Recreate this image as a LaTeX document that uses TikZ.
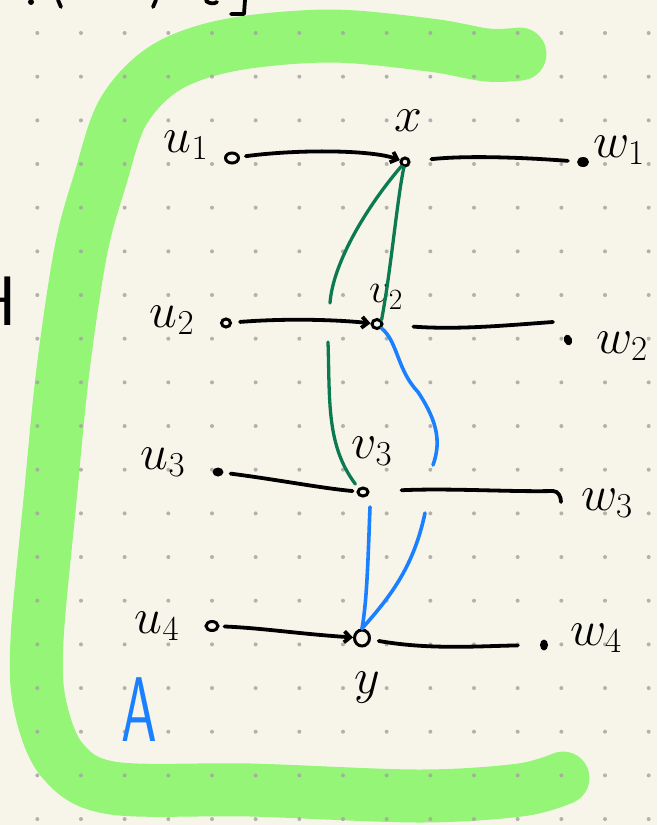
\RequirePackage{fix-cm}
\documentclass[tikz,border=0pt]{standalone}
\usetikzlibrary{arrows.meta,shapes.geometric}
\definecolor{paper}{HTML}{F7F5EA}
\definecolor{hl}{HTML}{94F577}
\definecolor{dgreen}{HTML}{0C7A50}
\definecolor{pblue}{HTML}{1A80FF}
\definecolor{griddot}{HTML}{A6A6A2}
\tikzset{
  ink/.style={line width=3.8pt, line cap=round, line join=round},
  blk/.style={ink, draw=black},
  grn/.style={ink, draw=dgreen, line width=3.3pt},
  blu/.style={ink, draw=pblue, line width=3.6pt},
  odot/.style={ellipse, draw=black, line width=3pt, inner sep=0pt},
  fdot/.style={ellipse, fill=black, inner sep=0pt},
  lab/.style={font=\fontsize{50}{50}\selectfont, inner sep=0pt},
  arr/.style={-{Straight Barb[length=6pt,width=11pt]}},
}
\begin{document}
\begin{tikzpicture}[x=1pt,y=-1pt]
\useasboundingbox (0,0) rectangle (657,825);
\fill[paper] (0,0) rectangle (657,825);
% highlighter bracket
\draw[hl, line width=53pt, line cap=round, line join=round]
  plot[smooth, tension=0.55] coordinates {(520,54) (487,55) (430,45) (330,36) (230,45) (165,68) (123,112) (100,180) (81,250) (63,370) (50,500) (37,640) (40,705) (62,760) (112,788) (251,790) (419,796) (520,790) (563,778)};
% dot grid
\foreach \i in {0,...,14}{
  \foreach \j in {0,...,18}{
    \fill[griddot, opacity=0.85] ({37.3+43.67*\i},{33+43.67*\j}) circle (2pt);
  }
}
% cut-off writing at top and left
\fill[black] (31,2) circle (3pt);
\draw[blk] (58,0) -- (61,7);
\draw[blk] (156,0) -- (153,7);
\draw[blk] (206,1) .. controls (210,4) and (214,4) .. (217,2);
\draw[blk] (245,0) -- (244,14) -- (231,14);
\node[font=\sffamily\fontsize{70}{70}\selectfont, anchor=base east, inner sep=0pt] (H) at (17,325) {H};

% vertices
\node[odot, minimum width=13pt, minimum height=10pt] (u1) at (232,158) {};
\node[odot, minimum width=8pt, minimum height=8pt] (x) at (405,162) {};
\node[fdot, minimum width=12pt, minimum height=10pt] (w1) at (583,162) {};
\node[odot, minimum width=9pt, minimum height=8pt] (u2) at (226,323) {};
\node[odot, minimum width=10pt, minimum height=9pt] (v2) at (377,324) {};
\node[fdot, minimum width=8pt, minimum height=11pt, rotate=20] (w2) at (568,340) {};
\node[fdot, minimum width=11pt, minimum height=9pt] (u3) at (218,472) {};
\node[odot, minimum width=10pt, minimum height=8pt] (v3) at (363,492) {};
\coordinate (w3) at (561,502);
\node[odot, minimum width=12pt, minimum height=9pt] (u4) at (212,626) {};
\node[odot, minimum width=15pt, minimum height=16pt] (y) at (362,638) {};
\node[fdot, minimum width=8pt, minimum height=11pt] (w4) at (544,645) {};

% labels
\node[lab] (lu1) at (186,145) {$u_1$};
\node[lab] (lx) at (408,121) {$x$};
\node[lab] (lw1) at (619,150) {$w_1$};
\node[lab] (lu2) at (172,320) {$u_2$};
\node[lab, font=\fontsize{42}{42}\selectfont] (lv2) at (386,297) {$v_2$};
\node[lab] (lw2) at (622,346) {$w_2$};
\node[lab] (lu3) at (163,462) {$u_3$};
\node[lab] (lv3) at (372,451) {$v_3$};
\node[lab] (lw3) at (607,503) {$w_3$};
\node[lab] (lu4) at (157,626) {$u_4$};
\node[lab] (ly) at (367,688) {$y$};
\node[lab] (lw4) at (596,638) {$w_4$};
\node[inner sep=0pt, text=pblue, font=\sffamily\fontsize{92}{92}\selectfont] (A) at (139,710) {\scalebox{0.62}[1]{A}};

% black edges
\draw[blk, arr, shorten <=6pt] (u1) .. controls (300,149) and (372,150) .. (x);
\draw[blk, shorten <=21pt, shorten >=9pt] (x) .. controls (470,155) and (530,158) .. (w1);
\draw[blk, arr, shorten <=8pt] (u2) .. controls (290,318) and (340,320) .. (v2);
\coordinate (w2l) at (553,322);
\draw[blk, shorten <=30pt] (v2) .. controls (460,330) and (510,325) .. (w2l);
\draw[blk, shorten <=7pt, shorten >=4pt] (u3) .. controls (280,480) and (320,488) .. (v3);
\coordinate (w3a) at (553,491);
\draw[blk, shorten <=32pt] (v3) .. controls (450,488) and (510,492) .. (w3a) to[out=0,in=90] (w3);
\draw[blk, arr, shorten <=5pt] (u4) .. controls (262,628) and (300,634) .. (y);
\draw[blk, shorten <=8pt, shorten >=22pt] (y) .. controls (430,650) and (480,646) .. (w4);

% green edges
\coordinate (g1e) at (330,303);
\draw[grn] (x) .. controls (368,205) and (333,262) .. (g1e);
\draw[grn] (x) .. controls (397,200) and (391,270) .. (v2.north east);
\coordinate (g3s) at (328,342);
\draw[grn] (g3s) .. controls (330,400) and (326,445) .. ([xshift=-3pt,yshift=4pt]v3.north west);

% blue edges
\coordinate (b1e) at (433,465);
\draw[blu] (v2.south east) .. controls (398,342) and (397,370) .. (418,392) .. controls (440,425) and (440,445) .. (b1e);
\coordinate (b2s) at (370,507);
\draw[blu] (b2s) .. controls (368,560) and (367,600) .. (y.north);
\coordinate (b3s) at (425,513);
\draw[blu] (b3s) .. controls (414,565) and (392,595) .. (y.north);
\end{tikzpicture}
\end{document}
